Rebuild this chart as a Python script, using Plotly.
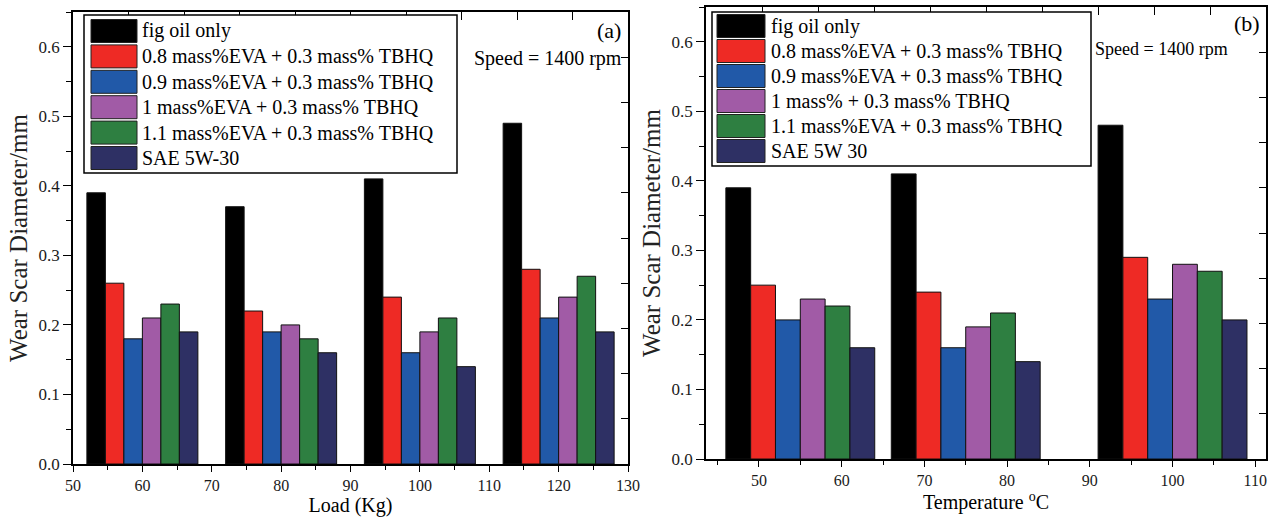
import plotly.graph_objects as go

# ---------------- data ----------------
load_kg = [60, 80, 100, 120]
temp_c = [55, 75, 100]

names_load = ["fig oil only",
              "0.8 mass%EVA + 0.3 mass% TBHQ",
              "0.9 mass%EVA + 0.3 mass% TBHQ",
              "1 mass%EVA + 0.3 mass% TBHQ",
              "1.1 mass%EVA + 0.3 mass% TBHQ",
              "SAE 5W-30"]
names_temp = ["fig oil only",
              "0.8 mass%EVA + 0.3 mass% TBHQ",
              "0.9 mass%EVA + 0.3 mass% TBHQ",
              "1 mass% + 0.3 mass% TBHQ",
              "1.1 mass%EVA + 0.3 mass% TBHQ",
              "SAE 5W 30"]

fig_oil_load = [0.39, 0.37, 0.41, 0.49]
eva08_load = [0.26, 0.22, 0.24, 0.28]
eva09_load = [0.18, 0.19, 0.16, 0.21]
eva10_load = [0.21, 0.20, 0.19, 0.24]
eva11_load = [0.23, 0.18, 0.21, 0.27]
sae_load = [0.19, 0.16, 0.14, 0.19]

fig_oil_temp = [0.39, 0.41, 0.48]
eva08_temp = [0.25, 0.24, 0.29]
eva09_temp = [0.20, 0.16, 0.23]
eva10_temp = [0.23, 0.19, 0.28]
eva11_temp = [0.22, 0.21, 0.27]
sae_temp = [0.16, 0.14, 0.20]

series_load = [fig_oil_load, eva08_load, eva09_load, eva10_load, eva11_load, sae_load]
series_temp = [fig_oil_temp, eva08_temp, eva09_temp, eva10_temp, eva11_temp, sae_temp]

# ---------------- styles ----------------
colors = ["#000000", "#EE2A25", "#2159A8", "#A15BA6", "#2E7F41", "#2E3064"]
SERIF = "Liberation Serif"

W, H = 1279, 517
ML, MR, MT, MB = 73, 13, 7, 53
PW = W - ML - MR
PH = H - MT - MB


def px(p):
    return (p - ML) / PW


def py(p):
    return (H - MB - p) / PH


fig = go.Figure()

GW_A = 16.0
GW_B = 18.0
n = len(series_load)
for i, (vals, name, col) in enumerate(zip(series_load, names_load, colors)):
    fig.add_trace(go.Bar(x=load_kg, y=vals, name=name, width=GW_A / n,
                         offset=-GW_A / 2 + i * GW_A / n,
                         marker=dict(color=col, line=dict(color="#111111", width=1)),
                         xaxis="x", yaxis="y", showlegend=False))
for i, (vals, name, col) in enumerate(zip(series_temp, names_temp, colors)):
    fig.add_trace(go.Bar(x=temp_c, y=vals, name=name, width=GW_B / n,
                         offset=-GW_B / 2 + i * GW_B / n,
                         marker=dict(color=col, line=dict(color="#111111", width=1)),
                         xaxis="x2", yaxis="y2", showlegend=False))

# empty traces to host the mirrored (top/right) axes
fig.add_trace(go.Scatter(x=[None], y=[None], xaxis="x3", yaxis="y3", showlegend=False, hoverinfo="skip"))
fig.add_trace(go.Scatter(x=[None], y=[None], xaxis="x4", yaxis="y4", showlegend=False, hoverinfo="skip"))

RANGE_A = [50, 130]
RANGE_B = [43.6, 111.3]
RANGE_Y = [0, 0.65]

TICKFONT = dict(family=SERIF, size=17, color="#1a1a1a")
XTICKFONT = dict(family=SERIF, size=16, color="#1a1a1a")
base = dict(showline=True, linecolor="black", linewidth=1.5, showgrid=False, zeroline=False,
            automargin=False, tickcolor="black", tickwidth=1.3, tickfont=TICKFONT)

dom_xa = [px(73), px(628)]
dom_xb = [px(706), px(1266)]
dom_ya = [py(464), py(12)]
dom_yb = [py(459), py(7)]

fig.update_layout(
    width=W, height=H,
    margin=dict(l=ML, r=MR, t=MT, b=MB),
    paper_bgcolor="white", plot_bgcolor="white",
    barmode="overlay",
    font=dict(family=SERIF, color="black"),
    xaxis=dict(base, domain=dom_xa, range=RANGE_A, anchor="y", ticks="outside", ticklen=6,
               tickfont=XTICKFONT, tickmode="linear", tick0=50, dtick=10,
               minor=dict(ticks="outside", ticklen=4, tickwidth=1.2, tickcolor="black", dtick=5, tick0=50),
               title=dict(text="Load (Kg)", font=dict(family=SERIF, size=20, color="black"), standoff=9)),
    yaxis=dict(base, domain=dom_ya, range=RANGE_Y, anchor="x", ticks="outside", ticklen=8,
               tickmode="linear", tick0=0, dtick=0.1, tickformat=".1f",
               minor=dict(ticks="outside", ticklen=5, tickwidth=1.2, tickcolor="black", dtick=0.05, tick0=0),
               title=dict(text="Wear Scar Diameter/mm", font=dict(family=SERIF, size=25, color="#222222"), standoff=4)),
    xaxis2=dict(base, domain=dom_xb, range=RANGE_B, anchor="y2", ticks="outside", ticklen=6,
                tickfont=XTICKFONT, tickmode="linear", tick0=50, dtick=10,
                minor=dict(ticks="outside", ticklen=4, tickwidth=1.2, tickcolor="black", dtick=5, tick0=45),
                title=dict(text="Temperature <sup>o</sup>C", font=dict(family=SERIF, size=20, color="black"), standoff=6)),
    yaxis2=dict(base, domain=dom_yb, range=RANGE_Y, anchor="x2", ticks="outside", ticklen=8,
                tickmode="linear", tick0=0, dtick=0.1, tickformat=".1f",
                minor=dict(ticks="outside", ticklen=5, tickwidth=1.2, tickcolor="black", dtick=0.05, tick0=0),
                title=dict(text="Wear Scar Diameter/mm", font=dict(family=SERIF, size=25, color="#222222"), standoff=4)),
    xaxis3=dict(base, overlaying="x", anchor="y3", side="top", range=RANGE_A, ticks="inside", ticklen=8,
                tickmode="linear", tick0=RANGE_A[0], dtick=(RANGE_A[1] - RANGE_A[0]) / 10, showticklabels=False),
    yaxis3=dict(base, overlaying="y", anchor="x3", side="right", range=RANGE_Y, ticks="inside", ticklen=7,
                tickmode="linear", tick0=0, dtick=(RANGE_Y[1] - RANGE_Y[0]) / 10, showticklabels=False),
    xaxis4=dict(base, overlaying="x2", anchor="y4", side="top", range=RANGE_B, ticks="inside", ticklen=8,
                tickmode="linear", tick0=RANGE_B[0], dtick=(RANGE_B[1] - RANGE_B[0]) / 10, showticklabels=False),
    yaxis4=dict(base, overlaying="y2", anchor="x4", side="right", range=RANGE_Y, ticks="inside", ticklen=7,
                tickmode="linear", tick0=0, dtick=(RANGE_Y[1] - RANGE_Y[0]) / 10, showticklabels=False),
)

# ---------------- legends (drawn as boxes + text) ----------------
shapes = []
annotations = []


def draw_legend(box, sw_x, text_x, row0, step, sw_h, names):
    x0, x1, y0, y1 = box
    shapes.append(dict(type="rect", xref="paper", yref="paper",
                       x0=px(x0), x1=px(x1), y0=py(y1), y1=py(y0),
                       line=dict(color="black", width=1.5), fillcolor="white", layer="above"))
    for i, (name, col) in enumerate(zip(names, colors)):
        c = row0 + i * step
        shapes.append(dict(type="rect", xref="paper", yref="paper",
                           x0=px(sw_x[0]), x1=px(sw_x[1]), y0=py(c + sw_h / 2), y1=py(c - sw_h / 2),
                           line=dict(color="#222222", width=1), fillcolor=col, layer="above"))
        annotations.append(dict(xref="paper", yref="paper", x=px(text_x), y=py(c),
                                xanchor="left", yanchor="middle", showarrow=False, text=name,
                                font=dict(family=SERIF, size=20, color="black")))


draw_legend((84, 457, 15, 173), (91, 137), 140, 31, 25.4, 23, names_load)
draw_legend((712, 1091, 12, 166), (717, 765), 769, 26, 25.0, 23, names_temp)

annotations += [
    dict(xref="paper", yref="paper", x=px(623), y=py(31), xanchor="right", yanchor="middle",
         showarrow=False, text="(a)", font=dict(family=SERIF, size=22, color="black")),
    dict(xref="paper", yref="paper", x=px(624), y=py(59), xanchor="right", yanchor="middle",
         showarrow=False, text="Speed = 1400 rpm", font=dict(family=SERIF, size=20, color="black")),
    dict(xref="paper", yref="paper", x=px(1262), y=py(23), xanchor="right", yanchor="middle",
         showarrow=False, text="(b)", font=dict(family=SERIF, size=22, color="black")),
    dict(xref="paper", yref="paper", x=px(1093), y=py(49), xanchor="left", yanchor="middle",
         showarrow=False, text="Speed = 1400 rpm", font=dict(family=SERIF, size=18, color="black")),
]

fig.update_layout(shapes=shapes, annotations=annotations)

fig.write_html("out.html")
